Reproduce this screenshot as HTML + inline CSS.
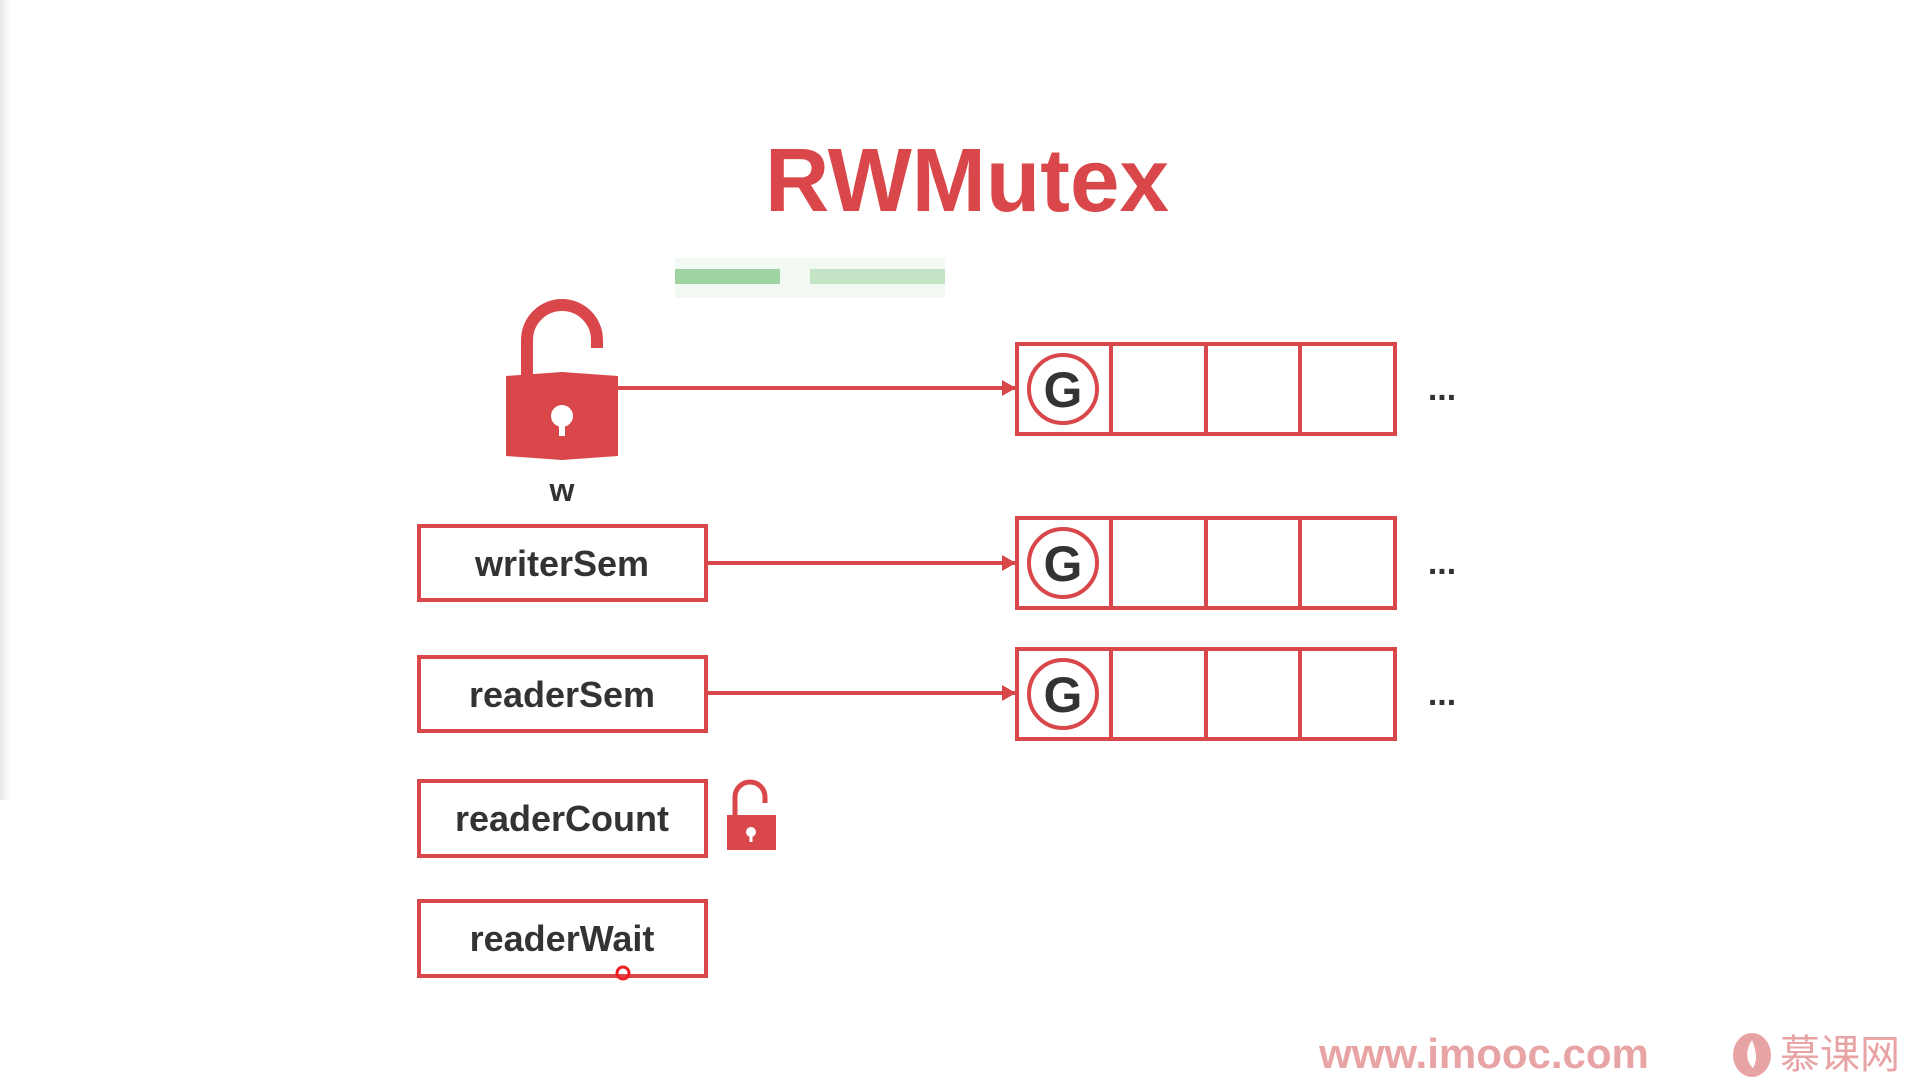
<!DOCTYPE html>
<html><head><meta charset="utf-8"><style>
html,body{margin:0;padding:0;background:#fff;width:1920px;height:1080px;overflow:hidden}
svg{display:block}
</style></head><body>
<svg width="1920" height="1080" viewBox="0 0 1920 1080" xmlns="http://www.w3.org/2000/svg">
<defs>
<linearGradient id="lg" x1="0" x2="1"><stop offset="0" stop-color="#e6e6e6"/><stop offset="1" stop-color="#fff"/></linearGradient>
<marker id="ah" markerWidth="14" markerHeight="16" refX="13" refY="8" orient="auto" markerUnits="userSpaceOnUse"><path d="M0,0 L14,8 L0,16 Z" fill="#d9474a"/></marker>
</defs>
<rect x="0" y="0" width="10" height="800" fill="url(#lg)"/>
<text x="967" y="211" text-anchor="middle" font-family="Liberation Sans, sans-serif" font-weight="bold" font-size="90" fill="#d9474a" textLength="404" lengthAdjust="spacingAndGlyphs">RWMutex</text>
<rect x="675" y="258" width="270" height="40" fill="#f2f8f2"/>
<rect x="675" y="269" width="105" height="15" fill="#9fd3a2"/>
<rect x="810" y="269" width="135" height="15" fill="#c4e4c6"/>
<path d="M527,376 L527,340 A35,35 0 0 1 597,340 L597,348" fill="none" stroke="#d9474a" stroke-width="12"/>
<path d="M506,376 L562,372 L618,376 L618,456 L562,460 L506,456 Z" fill="#d9474a"/>
<circle cx="562" cy="416" r="11" fill="#fff"/><rect x="559" y="418" width="6" height="18" fill="#fff"/>
<text x="562" y="501" text-anchor="middle" font-family="Liberation Sans, sans-serif" font-weight="bold" font-size="32" fill="#333">w</text>
<g fill="none" stroke="#d9474a" stroke-width="4">
<rect x="419" y="526" width="287" height="74"/>
<rect x="419" y="657" width="287" height="74"/>
<rect x="419" y="781" width="287" height="75"/>
<rect x="419" y="901" width="287" height="75"/>
</g>
<g font-family="Liberation Sans, sans-serif" font-weight="bold" font-size="36" fill="#333" text-anchor="middle">
<text x="562" y="576">writerSem</text>
<text x="562" y="707">readerSem</text>
<text x="562" y="831">readerCount</text>
<text x="562" y="951">readerWait</text>
</g>
<g stroke="#d9474a" stroke-width="4" fill="none">
<line x1="618" y1="388" x2="1015" y2="388" marker-end="url(#ah)"/>
<line x1="707" y1="563" x2="1015" y2="563" marker-end="url(#ah)"/>
<line x1="707" y1="693" x2="1015" y2="693" marker-end="url(#ah)"/>
</g>
<g fill="none" stroke="#d9474a" stroke-width="4">
<rect x="1017" y="344" width="378" height="90"/><line x1="1111" y1="344" x2="1111" y2="434"/><line x1="1206" y1="344" x2="1206" y2="434"/><line x1="1300" y1="344" x2="1300" y2="434"/>
<rect x="1017" y="518" width="378" height="90"/><line x1="1111" y1="518" x2="1111" y2="608"/><line x1="1206" y1="518" x2="1206" y2="608"/><line x1="1300" y1="518" x2="1300" y2="608"/>
<rect x="1017" y="649" width="378" height="90"/><line x1="1111" y1="649" x2="1111" y2="739"/><line x1="1206" y1="649" x2="1206" y2="739"/><line x1="1300" y1="649" x2="1300" y2="739"/>
<circle cx="1063" cy="389" r="34"/><circle cx="1063" cy="563" r="34"/><circle cx="1063" cy="694" r="34"/>
</g>
<g font-family="Liberation Sans, sans-serif" font-weight="bold" font-size="50" fill="#333" text-anchor="middle">
<text x="1063" y="407">G</text><text x="1063" y="581">G</text><text x="1063" y="712">G</text>
</g>
<g font-family="Liberation Sans, sans-serif" font-weight="bold" font-size="34" fill="#333" text-anchor="middle">
<text x="1442" y="400">...</text><text x="1442" y="574">...</text><text x="1442" y="705">...</text>
</g>
<path d="M735,816 L735,797 A15,15 0 0 1 765,797 L765,803" fill="none" stroke="#d9474a" stroke-width="5"/>
<rect x="727" y="815" width="49" height="35" fill="#d9474a"/>
<circle cx="751" cy="832" r="5" fill="#fff"/><rect x="749.5" y="833" width="3" height="9" fill="#fff"/>
<circle cx="623" cy="973" r="6" fill="none" stroke="#f02020" stroke-width="3"/>
<text x="1484" y="1068" text-anchor="middle" font-family="Liberation Sans, sans-serif" font-weight="bold" font-size="42" fill="#e8a3a5">www.imooc.com</text>
<ellipse cx="1752" cy="1055" rx="19" ry="22" fill="#e8a3a5"/>
<path d="M1752,1040 C1745,1050 1746,1062 1753,1068 C1758,1060 1756,1050 1752,1040 Z" fill="#fff"/>
<text x="1840" y="1068" text-anchor="middle" font-family="Liberation Sans, 'Noto Sans CJK SC', sans-serif" font-size="40" fill="#e8a3a5">慕课网</text>
</svg>
</body></html>
